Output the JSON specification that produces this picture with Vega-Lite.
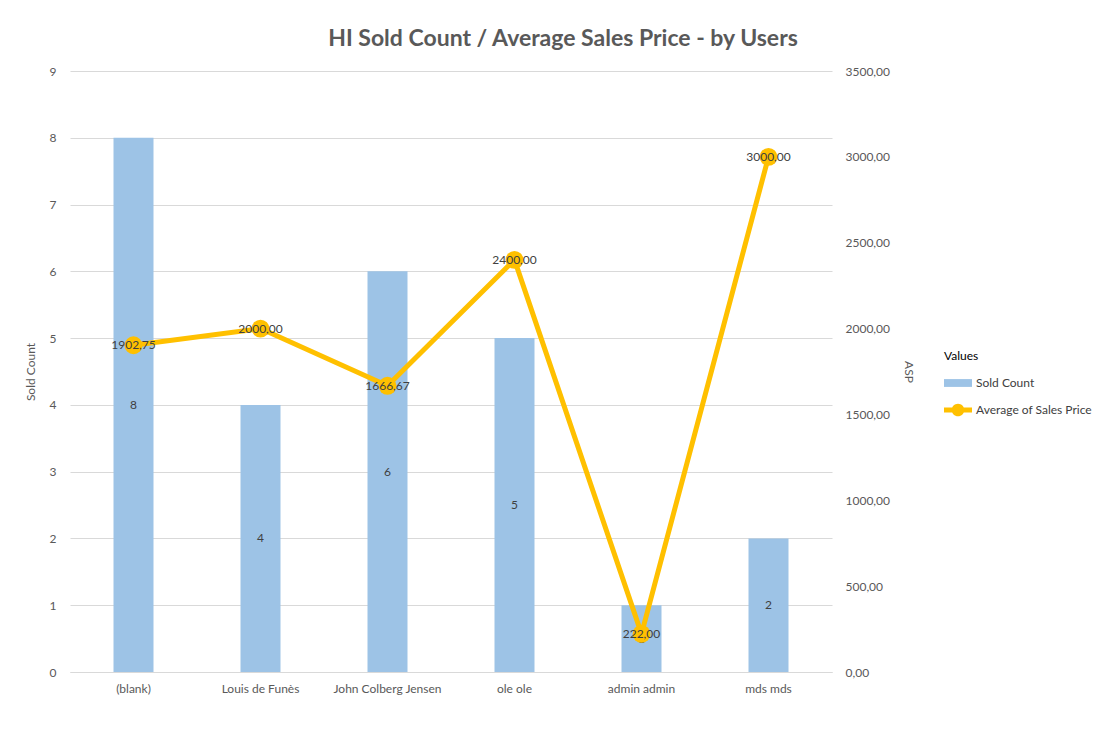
{
  "$schema": "https://vega.github.io/schema/vega-lite/v6.json",
  "width": 762,
  "height": 601,
  "autosize": "none",
  "padding": {"left": 70, "top": 71, "right": 272, "bottom": 63},
  "background": "white",
  "title": {
    "text": "HI Sold Count / Average Sales Price - by Users",
    "frame": "group",
    "anchor": "middle",
    "dx": 112,
    "offset": 14,
    "font": "Lato",
    "fontSize": 23,
    "fontWeight": "bold",
    "color": "#595959"
  },
  "data": {
    "values": [
      {"user": "(blank)", "sold": 8, "asp": 1902.75},
      {"user": "Louis  de Funès", "sold": 4, "asp": 2000.00},
      {"user": "John Colberg  Jensen", "sold": 6, "asp": 1666.67},
      {"user": "ole ole", "sold": 5, "asp": 2400.00},
      {"user": "admin admin", "sold": 1, "asp": 222.00},
      {"user": "mds mds", "sold": 2, "asp": 3000.00}
    ]
  },
  "encoding": {
    "x": {
      "field": "user",
      "type": "nominal",
      "sort": null,
      "scale": {"paddingInner": 0, "paddingOuter": 0},
      "axis": {
        "title": null,
        "labelAngle": 0,
        "labelPadding": 11,
        "ticks": false,
        "grid": false,
        "domainColor": "#D9D9D9",
        "labelColor": "#595959",
        "labelFont": "Lato",
        "labelFontSize": 12
      }
    }
  },
  "layer": [
    {
      "mark": {"type": "bar", "width": 40},
      "encoding": {
        "y": {
          "field": "sold",
          "type": "quantitative",
          "scale": {"domain": [0, 9], "nice": false},
          "axis": {
            "orient": "left",
            "title": "Sold Count",
            "values": [0, 1, 2, 3, 4, 5, 6, 7, 8, 9],
            "grid": true,
            "gridColor": "#D9D9D9",
            "domain": false,
            "ticks": false,
            "labelPadding": 14,
            "titlePadding": 12,
            "labelColor": "#595959",
            "titleColor": "#595959",
            "labelFont": "Lato",
            "titleFont": "Lato",
            "labelFontSize": 12,
            "titleFontSize": 12,
            "titleFontWeight": "normal"
          }
        },
        "color": {
          "datum": "Sold Count",
          "scale": {"domain": ["Sold Count", "Average of Sales Price"], "range": ["#9DC3E6", "#FFC000"]},
          "legend": {
            "title": "Values",
            "orient": "none",
            "legendX": 874,
            "legendY": 280,
            "titleFont": "Lato",
            "titleFontSize": 12,
            "titleFontWeight": "normal",
            "titleColor": "#000000",
            "titlePadding": 6,
            "labelFont": "Lato",
            "labelFontSize": 12,
            "labelColor": "#404040",
            "rowPadding": 7,
            "symbolSize": 784,
            "symbolStrokeWidth": 0,
            "labelOffset": 4,
            "encode": {
              "symbols": {
                "update": {
                  "shape": {"signal": "datum.value === 'Sold Count' ? 'M-1,-0.28H1V0.28H-1Z' : 'M-1,-0.17H1V0.17H-1Z M-0.45,0A0.45,0.45 0 1,1 0.45,0A0.45,0.45 0 1,1 -0.45,0Z'"},
                  "fill": {"signal": "datum.value === 'Sold Count' ? '#9DC3E6' : '#FFC000'"},
                  "stroke": {"value": "transparent"},
                  "strokeWidth": {"value": 0},
                  "opacity": {"value": 1}
                }
              }
            }
          }
        }
      }
    },
    {
      "mark": {"type": "text", "font": "Lato", "fontSize": 12, "color": "#404040", "baseline": "middle"},
      "encoding": {
        "y": {
          "field": "sold",
          "type": "quantitative",
          "scale": {"domain": [0, 18], "nice": false},
          "axis": null
        },
        "text": {"field": "sold", "type": "quantitative"}
      }
    },
    {
      "encoding": {
        "y": {
          "field": "asp",
          "type": "quantitative",
          "scale": {"domain": [0, 3500], "nice": false},
          "axis": {
            "orient": "right",
            "title": "ASP",
            "values": [0, 500, 1000, 1500, 2000, 2500, 3000, 3500],
            "format": ".2f",
            "grid": false,
            "domain": false,
            "ticks": false,
            "labelPadding": 13,
            "titlePadding": 12,
            "labelColor": "#595959",
            "titleColor": "#595959",
            "labelFont": "Lato",
            "titleFont": "Lato",
            "labelFontSize": 12,
            "titleFontSize": 12,
            "titleFontWeight": "normal"
          }
        }
      },
      "layer": [
        {
          "mark": {"type": "line", "strokeWidth": 5, "strokeJoin": "round"},
          "encoding": {"color": {"datum": "Average of Sales Price"}}
        },
        {
          "mark": {"type": "point", "filled": true, "size": 320, "opacity": 1},
          "encoding": {"color": {"datum": "Average of Sales Price"}}
        },
        {
          "mark": {"type": "text", "font": "Lato", "fontSize": 12, "color": "#404040", "baseline": "middle"},
          "encoding": {"text": {"field": "asp", "type": "quantitative", "format": ".2f"}}
        }
      ]
    }
  ],
  "resolve": {"scale": {"y": "independent"}},
  "config": {
    "view": {"stroke": null},
    "locale": {
      "number": {"decimal": ",", "thousands": ".", "grouping": [3], "currency": ["", " €"]}
    }
  }
}
